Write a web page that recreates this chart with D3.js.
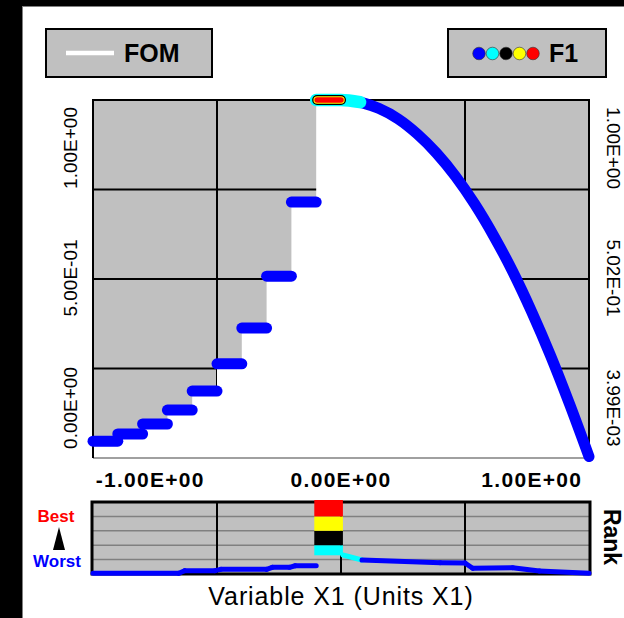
<!DOCTYPE html>
<html>
<head>
<meta charset="utf-8">
<script src="https://cdn.jsdelivr.net/npm/d3@7"></script>
<style>
  html, body { margin: 0; padding: 0; background: #000; }
  svg { display: block; }
  text { font-family: "Liberation Sans", Arial, sans-serif; }
</style>
</head>
<body>
<svg id="chart" width="624" height="618"></svg>
<script>
// ---------------- data ----------------
// FOM is a staircase for X1 < -0.13, a plateau at 1, then a falling curve.
const stepEdges = [-1.30, -1.17, -1.04, -0.91, -0.78, -0.65, -0.52, -0.39, -0.26, -0.13];
const stepFOM   = [0.047, 0.067, 0.095, 0.134, 0.187, 0.263, 0.363, 0.508, 0.715];
const plateauX  = [-0.13, 0.0];
const plateauFOM = 1.0;
const curveX    = [0.0, 0.1, 0.2, 0.3, 0.4, 0.5, 0.6, 0.7, 0.8, 0.9, 1.0, 1.1, 1.2, 1.3];
const curveFOM  = [1.000, 0.994, 0.976, 0.947, 0.905, 0.852, 0.787, 0.710, 0.621, 0.521, 0.408, 0.284, 0.148, 0.004];

// Axis labels
const xTicks    = [-1, 0, 1];
const xGrid     = [-0.65, 0, 0.65];
const yGrid     = [0.25, 0.5, 0.75];
const fomLabels = [0, 0.5, 1.0];
const f1Labels  = [0.00399, 0.502, 1.0];

// Rank colouring (worst -> best)
const rankEdges  = [0, 0.2, 0.4, 0.6, 0.8, 1.0];
const rankColors = ["#0000ff", "#00ffff", "#000000", "#ffff00", "#ff0000"];

// Rank of F1 along X1
const rankLeftX  = [-1.30, -0.85, -0.82, -0.66, -0.63, -0.39, -0.36, -0.27, -0.24, -0.13];
const rankLeftR  = [0.010, 0.010, 0.046, 0.046, 0.065, 0.065, 0.093, 0.093, 0.115, 0.115];
const bestColX   = [-0.14, 0.01];
const bestColR   = [0.26, 1.0];
const rankRightX = [0.01, 0.11, 0.52, 0.65, 0.69, 0.90, 1.04, 1.30];
const rankRightR = [0.264, 0.194, 0.157, 0.153, 0.079, 0.088, 0.042, 0.010];

// ---------------- helpers ----------------
function fmtE(v) {
  const [m, e] = v.toExponential(2).split("e");
  const n = +e;
  return m + "E" + (n < 0 ? "-" : "+") + String(Math.abs(n)).padStart(2, "0");
}

const svg = d3.select("#chart");

// scales
const x = d3.scaleLinear().domain([-1.3, 1.3]).range([93, 589]);
const y = d3.scaleLinear().domain([0, 1]).range([458, 100]);
const rY = d3.scaleLinear().domain([0, 1]).range([574, 502]);
const rankColor = d3.scaleThreshold().domain(rankEdges.slice(1, -1)).range(rankColors);

// window background
svg.append("rect").attr("x", 0).attr("y", 0).attr("width", 624).attr("height", 618).attr("fill", "#000");
svg.append("rect").attr("x", 22.5).attr("y", 6.5).attr("width", 602).attr("height", 612)
  .attr("fill", "#fff").attr("stroke", "#808080").attr("stroke-width", 1);

// ---------------- legends ----------------
const legFOM = svg.append("g");
legFOM.append("rect").attr("x", 46).attr("y", 29).attr("width", 166).attr("height", 48)
  .attr("fill", "#c0c0c0").attr("stroke", "#000").attr("stroke-width", 2);
legFOM.append("line").attr("x1", 66).attr("x2", 114).attr("y1", 53).attr("y2", 53)
  .attr("stroke", "#fff").attr("stroke-width", 4.5);
legFOM.append("text").attr("x", 124).attr("y", 62).attr("font-size", 25).attr("font-weight", "bold")
  .text("FOM");

const legF1 = svg.append("g");
legF1.append("rect").attr("x", 448).attr("y", 29).attr("width", 158).attr("height", 48)
  .attr("fill", "#c0c0c0").attr("stroke", "#000").attr("stroke-width", 2);
const dotX = d3.scalePoint().domain(d3.range(rankColors.length)).range([479, 533]);
legF1.selectAll("circle").data(rankColors).join("circle")
  .attr("cx", (d, i) => dotX(i)).attr("cy", 53.5).attr("r", 6.3)
  .attr("fill", d => d).attr("stroke", "#333").attr("stroke-width", 0.6);
legF1.append("text").attr("x", 549).attr("y", 62).attr("font-size", 25).attr("font-weight", "bold")
  .text("F1");

// ---------------- main plot ----------------
const main = svg.append("g");
const x0 = x.range()[0], x1 = x.range()[1];
const yTop = y(1), yBot = y(0);

main.append("rect").attr("x", x0).attr("y", yTop).attr("width", x1 - x0).attr("height", yBot - yTop)
  .attr("fill", "#c0c0c0");

// grid
main.selectAll("line.vg").data(xGrid).join("line").attr("class", "vg")
  .attr("x1", d => x(d)).attr("x2", d => x(d)).attr("y1", yTop).attr("y2", yBot)
  .attr("stroke", "#000").attr("stroke-width", 2);
main.selectAll("line.hg").data(yGrid).join("line").attr("class", "hg")
  .attr("x1", x0).attr("x2", x1).attr("y1", d => y(d)).attr("y2", d => y(d))
  .attr("stroke", "#000").attr("stroke-width", 2);

// FOM as white area
const curvePts = curveX.map((cx, i) => [cx, curveFOM[i]]);
const fomPts = [];
stepFOM.forEach((v, i) => { fomPts.push([stepEdges[i], v], [stepEdges[i + 1], v]); });
fomPts.push([plateauX[0], plateauFOM]);

const areaSteps = d3.area().x(d => x(d[0])).y0(yBot).y1(d => y(d[1]));
const areaCurve = d3.area().x(d => x(d[0])).y0(yBot).y1(d => y(d[1])).curve(d3.curveMonotoneX);
main.append("path").datum(fomPts.concat([[plateauX[1], plateauFOM]])).attr("d", areaSteps).attr("fill", "#fff");
main.append("path").datum(curvePts).attr("d", areaCurve).attr("fill", "#fff");

// plot frame
main.append("line").attr("x1", x0).attr("x2", x1).attr("y1", yBot).attr("y2", yBot)
  .attr("stroke", "#808080").attr("stroke-width", 1.5);
main.append("path")
  .attr("d", `M${x0},${yBot}V${yTop}H${x1}V${yBot}`)
  .attr("fill", "none").attr("stroke", "#000").attr("stroke-width", 2);

// F1 markers (F1 follows FOM)
const line = d3.line().x(d => x(d[0])).y(d => y(d[1]));
const smooth = d3.line().x(d => x(d[0])).y(d => y(d[1])).curve(d3.curveMonotoneX);
const f1 = main.append("g").attr("fill", "none").attr("stroke-linecap", "round").attr("stroke-linejoin", "round");

stepFOM.forEach((v, i) => {
  f1.append("path").datum([[stepEdges[i], v], [stepEdges[i + 1], v]])
    .attr("d", line).attr("stroke", rankColor(0)).attr("stroke-width", 11);
});

// falling branch (lower ranks)
f1.append("path").datum(curvePts.filter(d => d[0] >= 0.1)).attr("d", smooth)
  .attr("stroke", rankColor(0)).attr("stroke-width", 11);

// plateau, best ranks stacked on top
const topPts = [[plateauX[0], plateauFOM]].concat(curvePts.filter(d => d[0] <= 0.1));
f1.append("path").datum(topPts).attr("d", smooth)
  .attr("stroke", rankColor(0.3)).attr("stroke-width", 12.5);
const plateauCore = [[plateauX[0] + 0.005, plateauFOM], [plateauX[1], plateauFOM]];
[[rankColor(0.5), 10], [rankColor(0.7), 7.5], [rankColor(0.9), 5.5]].forEach(([c, w]) => {
  f1.append("path").datum(plateauCore).attr("d", line).attr("stroke", c).attr("stroke-width", w);
});

// axes labels
main.selectAll("text.xt").data(xTicks).join("text").attr("class", "xt")
  .attr("x", d => x(d)).attr("y", 487).attr("text-anchor", "middle")
  .attr("font-size", 21).attr("font-weight", "bold").attr("letter-spacing", 1.3)
  .text(fmtE);

const labelPos = d3.scalePoint().domain([0, 1, 2]).range([408, 148]);
main.selectAll("text.yl").data(fomLabels).join("text").attr("class", "yl")
  .attr("transform", (d, i) => `translate(70,${labelPos(i)}) rotate(-90)`)
  .attr("text-anchor", "middle").attr("dominant-baseline", "central")
  .attr("font-size", 19).text(fmtE);
main.selectAll("text.yr").data(f1Labels).join("text").attr("class", "yr")
  .attr("transform", (d, i) => `translate(613,${labelPos(i)}) rotate(90)`)
  .attr("text-anchor", "middle").attr("dominant-baseline", "central")
  .attr("font-size", 19).text(fmtE);

// ---------------- rank strip ----------------
const rank = svg.append("g");
const rTop = rY(1), rBot = rY(0);
rank.append("rect").attr("x", x0 - 1).attr("y", rTop).attr("width", x1 - x0 + 2).attr("height", rBot - rTop)
  .attr("fill", "#c0c0c0");
rank.selectAll("line.rh").data(rankEdges.slice(1, -1)).join("line").attr("class", "rh")
  .attr("x1", x0).attr("x2", x1).attr("y1", d => rY(d)).attr("y2", d => rY(d))
  .attr("stroke", "#808080").attr("stroke-width", 1.5);
rank.selectAll("line.rv").data(xGrid).join("line").attr("class", "rv")
  .attr("x1", d => x(d)).attr("x2", d => x(d)).attr("y1", rTop).attr("y2", rBot)
  .attr("stroke", "#000").attr("stroke-width", 2);
rank.append("rect").attr("x", x0 - 1).attr("y", rTop).attr("width", x1 - x0 + 2).attr("height", rBot - rTop)
  .attr("fill", "none").attr("stroke", "#000").attr("stroke-width", 3);

function drawRankLine(xs, rs) {
  for (let i = 0; i < xs.length - 1; i++) {
    const mid = (rs[i] + rs[i + 1]) / 2;
    rank.append("line")
      .attr("x1", x(xs[i])).attr("y1", rY(rs[i])).attr("x2", x(xs[i + 1])).attr("y2", rY(rs[i + 1]))
      .attr("stroke", rankColor(mid)).attr("stroke-width", 5).attr("stroke-linecap", "round");
  }
}
drawRankLine(rankLeftX, rankLeftR);
drawRankLine(rankRightX, rankRightR);

// column of best-ranked samples, split into rank bands
rankColors.forEach((c, i) => {
  const lo = Math.max(bestColR[0], rankEdges[i]);
  const hi = Math.min(bestColR[1], rankEdges[i + 1]);
  if (hi <= lo) return;
  const top = hi >= 1 ? rY(hi) - 2 : rY(hi);
  rank.append("rect").attr("x", x(bestColX[0])).attr("width", x(bestColX[1]) - x(bestColX[0]))
    .attr("y", top).attr("height", rY(lo) - top).attr("fill", c);
});

// rank annotations
svg.append("text").attr("x", 56).attr("y", 522).attr("text-anchor", "middle")
  .attr("font-size", 17).attr("font-weight", "bold").attr("fill", "#ff0000").text("Best");
svg.append("path").attr("d", "M59,527L65,550L53,550Z").attr("fill", "#000");
svg.append("text").attr("x", 57).attr("y", 567).attr("text-anchor", "middle")
  .attr("font-size", 17).attr("font-weight", "bold").attr("fill", "#0000ff").text("Worst");
svg.append("text").attr("transform", "translate(612,537) rotate(90)")
  .attr("text-anchor", "middle").attr("dominant-baseline", "central")
  .attr("font-size", 23).attr("font-weight", "bold").text("Rank");

// x axis title
svg.append("text").attr("x", x(0)).attr("y", 605).attr("text-anchor", "middle")
  .attr("font-size", 25).attr("letter-spacing", 0.9).text("Variable X1 (Units X1)");
</script>
</body>
</html>
